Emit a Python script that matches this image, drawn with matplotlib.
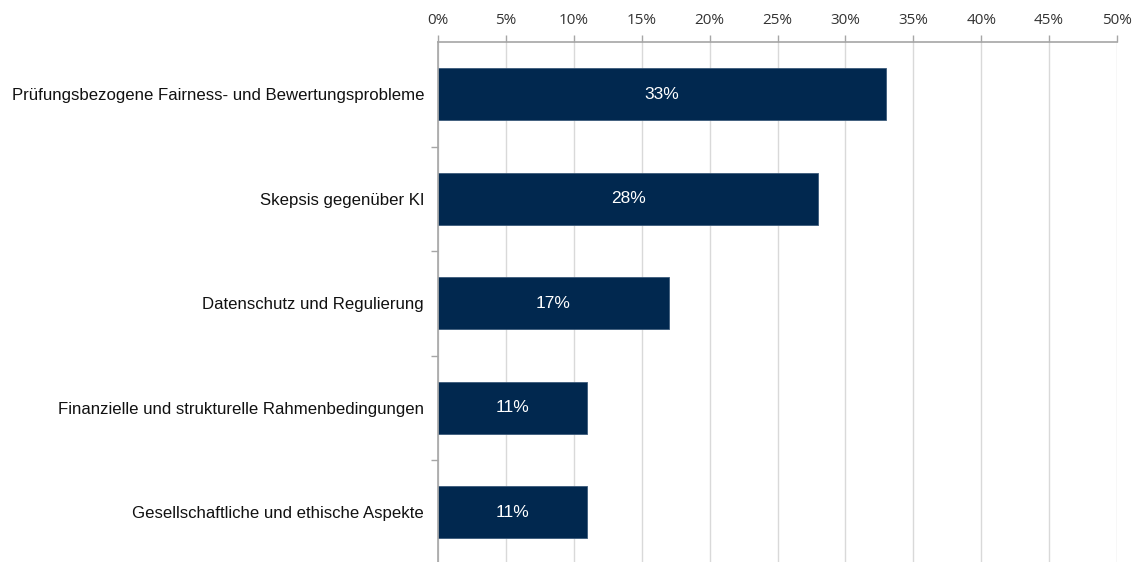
import matplotlib
matplotlib.use("Agg")
import matplotlib.pyplot as plt
from matplotlib.ticker import FixedLocator

# Kategorien und Anteile (in %)
categories = [
    "Prüfungsbezogene Fairness- und Bewertungsprobleme",
    "Skepsis gegenüber KI",
    "Datenschutz und Regulierung",
    "Finanzielle und strukturelle Rahmenbedingungen",
    "Gesellschaftliche und ethische Aspekte",
]
values = [33, 28, 17, 11, 11]
x_ticks = [0, 5, 10, 15, 20, 25, 30, 35, 40, 45, 50]

bar_color = "#01284F"
axis_color = "#A6A6A6"
grid_color = "#D9D9D9"

fig = plt.figure(figsize=(11.32, 5.62), dpi=100)
ax = fig.add_axes([438 / 1132, 0, (1117 - 438) / 1132, 520 / 562])

y = list(range(len(categories)))
ax.barh(y, values, height=0.5, color=bar_color, edgecolor="#3C5A7A",
        linewidth=0.6, zorder=3)

for yi, v in zip(y, values):
    ax.text(v / 2, yi, f"{v}%", ha="center", va="center", color="white",
            fontsize=12.5, family="Liberation Sans", zorder=4)

ax.set_xlim(0, 50)
ax.set_ylim(-0.5 + 520 / 104.5, -0.5)

ax.set_xticks(x_ticks)
ax.set_xticklabels([f"{t}%" for t in x_ticks], family="Open Sans",
                   fontsize=11, color="#333333")
ax.xaxis.tick_top()
ax.tick_params(axis="x", direction="out", length=5, color=axis_color,
               width=1, pad=5)

ax.set_yticks(y)
ax.set_yticklabels(categories, family="Liberation Sans", fontsize=12.1,
                   color="#111111")
ax.tick_params(axis="y", which="major", length=0, pad=10)
ax.yaxis.set_minor_locator(FixedLocator([0.5, 1.5, 2.5, 3.5]))
ax.tick_params(axis="y", which="minor", direction="out", length=5,
               color=axis_color, width=1)

ax.grid(axis="x", color=grid_color, linewidth=1, zorder=0)
for side in ["right", "bottom"]:
    ax.spines[side].set_visible(False)
for side in ["left", "top"]:
    ax.spines[side].set_color(axis_color)
    ax.spines[side].set_linewidth(1.2)
    ax.spines[side].set_zorder(5)

fig.savefig("out.png", dpi=100)
